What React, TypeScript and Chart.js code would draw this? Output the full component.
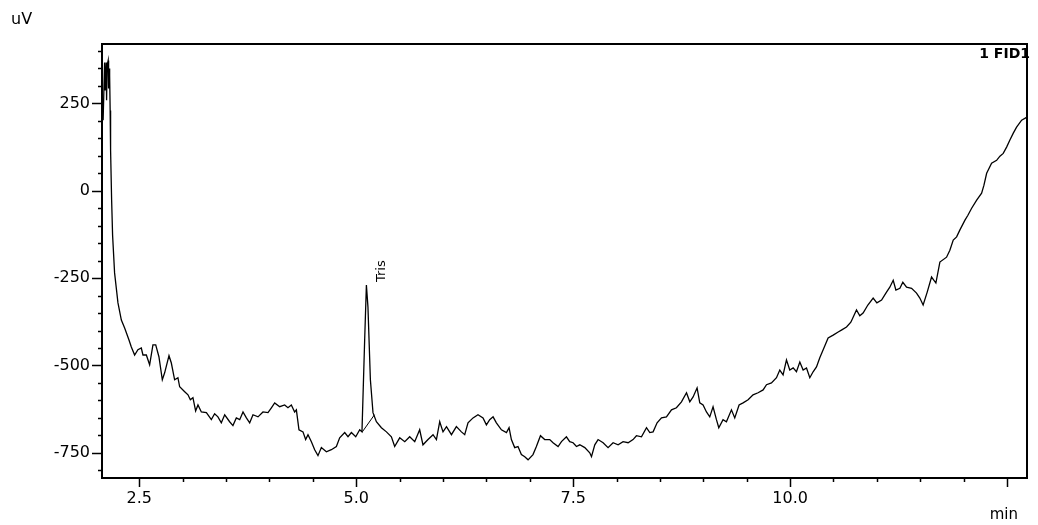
import React, { useEffect, useRef } from "react";
import { Chart, registerables } from "chart.js";

Chart.register(...registerables);

// Retention time (min) and detector signal (uV)
const retentionTimes = [
  2.083, 2.1, 2.106, 2.118, 2.123, 2.129, 2.141, 2.146, 2.152, 2.158, 2.164, 2.169, 2.181, 2.192, 2.215, 2.254,
  2.293, 2.331, 2.381, 2.408, 2.446, 2.484, 2.523, 2.542, 2.581, 2.619, 2.657, 2.689, 2.726, 2.765, 2.792, 2.842,
  2.869, 2.907, 2.945, 2.965, 3.023, 3.061, 3.088, 3.118, 3.149, 3.176, 3.215, 3.273, 3.33, 3.368, 3.406, 3.445,
  3.484, 3.541, 3.579, 3.618, 3.657, 3.695, 3.734, 3.772, 3.81, 3.868, 3.925, 3.983, 4.022, 4.06, 4.118, 4.175,
  4.213, 4.252, 4.29, 4.31, 4.34, 4.386, 4.417, 4.444, 4.483, 4.521, 4.559, 4.598, 4.656, 4.713, 4.771, 4.809,
  4.867, 4.905, 4.944, 4.994, 5.04, 5.066, 5.097, 5.117, 5.135, 5.163, 5.193, 5.232, 5.29, 5.348, 5.405, 5.443,
  5.501, 5.559, 5.616, 5.674, 5.731, 5.769, 5.827, 5.885, 5.924, 5.962, 6.0, 6.04, 6.097, 6.154, 6.212, 6.25,
  6.288, 6.346, 6.403, 6.461, 6.5, 6.538, 6.577, 6.615, 6.673, 6.731, 6.761, 6.788, 6.826, 6.864, 6.903, 6.942,
  6.98, 7.037, 7.076, 7.123, 7.172, 7.23, 7.268, 7.326, 7.365, 7.422, 7.46, 7.499, 7.538, 7.576, 7.634, 7.691,
  7.711, 7.749, 7.787, 7.845, 7.902, 7.96, 8.018, 8.075, 8.133, 8.19, 8.229, 8.287, 8.345, 8.383, 8.421, 8.467,
  8.518, 8.575, 8.633, 8.69, 8.748, 8.806, 8.844, 8.882, 8.928, 8.959, 8.997, 9.036, 9.074, 9.112, 9.151, 9.178,
  9.227, 9.266, 9.324, 9.362, 9.412, 9.458, 9.516, 9.573, 9.631, 9.689, 9.728, 9.785, 9.843, 9.881, 9.919, 9.958,
  9.996, 10.035, 10.073, 10.112, 10.15, 10.189, 10.227, 10.265, 10.304, 10.342, 10.381, 10.438, 10.496, 10.554, 10.596, 10.65,
  10.7, 10.765, 10.803, 10.841, 10.896, 10.957, 11.0, 11.054, 11.111, 11.149, 11.188, 11.219, 11.265, 11.299, 11.342, 11.4,
  11.457, 11.495, 11.533, 11.58, 11.63, 11.68, 11.726, 11.803, 11.841, 11.88, 11.919, 11.957, 12.015, 12.049, 12.092, 12.15,
  12.207, 12.234, 12.265, 12.322, 12.38, 12.418, 12.456, 12.495, 12.533, 12.572, 12.61, 12.668, 12.725,
];

const signalUV = [
  202, 367, 287, 367, 259, 359, 373, 293, 350, 330, 230, 116, -27, -127, -235, -321,
  -370, -393, -427, -447, -470, -455, -450, -470, -470, -498, -441, -441, -475, -541, -521, -472,
  -493, -541, -535, -561, -575, -584, -598, -592, -630, -613, -633, -635, -655, -638, -647, -664,
  -641, -661, -672, -650, -655, -633, -650, -664, -641, -647, -633, -635, -621, -607, -618, -613,
  -621, -613, -633, -627, -684, -690, -712, -698, -718, -741, -758, -735, -747, -741, -732, -707,
  -692, -704, -692, -704, -684, -690, -427, -270, -333, -541, -635, -661, -678, -690, -704, -732,
  -707, -718, -704, -718, -684, -727, -712, -698, -712, -661, -690, -675, -698, -675, -690, -698,
  -664, -650, -641, -650, -670, -655, -647, -664, -684, -692, -678, -712, -735, -732, -755, -761,
  -770, -755, -732, -701, -712, -712, -721, -732, -718, -704, -718, -721, -732, -727, -735, -750,
  -761, -727, -712, -721, -735, -721, -727, -718, -721, -712, -701, -704, -678, -692, -690, -664,
  -650, -647, -627, -621, -604, -578, -604, -590, -564, -607, -613, -633, -647, -618, -655, -678,
  -655, -661, -627, -650, -613, -607, -598, -584, -578, -570, -555, -550, -535, -513, -527, -484,
  -513, -507, -518, -490, -513, -507, -535, -518, -504, -478, -455, -421, -413, -404, -398, -390,
  -376, -341, -358, -350, -327, -307, -321, -313, -290, -276, -256, -284, -279, -262, -276, -279,
  -293, -307, -327, -290, -247, -264, -204, -190, -170, -141, -132, -112, -84, -70, -50, -27,
  -7, 16, 50, 79, 87, 99, 107, 125, 145, 165, 182, 202, 210,
];

// Integration baseline drawn under the Tris peak
const peakBaselineTimes = [5.07, 5.21];
const peakBaselineValues = [-690, -641];

const peakName = "Tris";
const peakApexTime = 5.117;
const peakApexValue = -270;

const yTickValues = [250, 0, -250, -500, -750];
const xTickValues = [2.5, 5.0, 7.5, 10.0];
const yUnit = "uV";
const xUnit = "min";
const traceName = "1 FID1";

const X_MIN = 2.07;
const X_MAX = 12.73;
const Y_MIN = -822;
const Y_MAX = 420;

const FONT = "'DejaVu Sans', sans-serif";

export default function App() {
  const canvasRef = useRef<HTMLCanvasElement | null>(null);

  useEffect(() => {
    const canvas = canvasRef.current;
    if (!canvas) return;

    const decor = {
      id: "decor",
      afterDraw(chart: any) {
        const { ctx, chartArea: a, scales } = chart;
        const x = scales.x;
        const y = scales.y;
        ctx.save();
        ctx.strokeStyle = "#000";
        ctx.lineWidth = 2;
        ctx.strokeRect(a.left, a.top, a.right - a.left, a.bottom - a.top);

        ctx.lineWidth = 1.5;
        for (let v = -800; v <= 400; v += 50) {
          const py = Math.round(y.getPixelForValue(v)) + 0.5;
          const major = v % 250 === 0;
          ctx.beginPath();
          ctx.moveTo(a.left - (major ? 10 : 4), py);
          ctx.lineTo(a.left, py);
          ctx.stroke();
        }
        for (let k = 0; k <= 20; k++) {
          const t = 2.5 + k * 0.5;
          const px = Math.round(x.getPixelForValue(t)) + 0.5;
          const major = k % 5 === 0;
          ctx.beginPath();
          ctx.moveTo(px, a.bottom);
          ctx.lineTo(px, a.bottom + (major ? 9 : 4));
          ctx.stroke();
        }

        ctx.fillStyle = "#000";
        ctx.textBaseline = "alphabetic";
        ctx.font = `16px ${FONT}`;
        ctx.textAlign = "left";
        ctx.fillText(yUnit, 11, 24);

        ctx.font = `15px ${FONT}`;
        ctx.textAlign = "right";
        ctx.fillText(xUnit, 1018, 519);

        ctx.font = `bold 14px ${FONT}`;
        ctx.textAlign = "right";
        ctx.fillText(traceName, 1030, 58);

        const px = x.getPixelForValue(peakApexTime);
        const py = y.getPixelForValue(peakApexValue);
        ctx.save();
        ctx.translate(px + 19, py - 3);
        ctx.rotate(-Math.PI / 2);
        ctx.font = `13px ${FONT}`;
        ctx.textAlign = "left";
        ctx.fillText(peakName, 0, 0);
        ctx.restore();

        ctx.restore();
      },
    };

    const chart = new Chart(canvas, {
      type: "line",
      data: {
        datasets: [
          {
            data: retentionTimes.map((t, i) => ({ x: t, y: signalUV[i] })),
            borderColor: "#000",
            borderWidth: 1.3,
            pointRadius: 0,
            tension: 0,
          },
          {
            data: peakBaselineTimes.map((t, i) => ({ x: t, y: peakBaselineValues[i] })),
            borderColor: "#000",
            borderWidth: 1,
            pointRadius: 0,
            tension: 0,
          },
        ],
      },
      plugins: [decor],
      options: {
        responsive: false,
        animation: false,
        devicePixelRatio: 1,
        events: [],
        layout: { padding: { top: 44, right: 11, left: 0, bottom: 0 } },
        plugins: { legend: { display: false }, tooltip: { enabled: false } },
        scales: {
          x: {
            type: "linear",
            min: X_MIN,
            max: X_MAX,
            afterFit: (s: any) => {
              s.height = 47;
            },
            afterBuildTicks: (s: any) => {
              s.ticks = xTickValues.map((v) => ({ value: v }));
            },
            grid: { display: false, drawTicks: false },
            border: { display: false },
            ticks: {
              color: "#000",
              font: { family: FONT, size: 16 },
              padding: 11,
              maxRotation: 0,
              autoSkip: false,
              callback: (v: any) => Number(v).toFixed(1),
            },
          },
          y: {
            type: "linear",
            min: Y_MIN,
            max: Y_MAX,
            afterFit: (s: any) => {
              s.width = 102;
            },
            afterBuildTicks: (s: any) => {
              s.ticks = yTickValues.map((v) => ({ value: v }));
            },
            grid: { display: false, drawTicks: false },
            border: { display: false },
            ticks: {
              color: "#000",
              font: { family: FONT, size: 16 },
              padding: 12,
              autoSkip: false,
              callback: (v: any) => String(v),
            },
          },
        },
      },
    });

    return () => chart.destroy();
  }, []);

  return (
    <div style={{ position: "absolute", left: 0, top: 0, width: 1038, height: 525, background: "#fff" }}>
      <canvas ref={canvasRef} width={1038} height={525} style={{ display: "block" }} />
    </div>
  );
}
